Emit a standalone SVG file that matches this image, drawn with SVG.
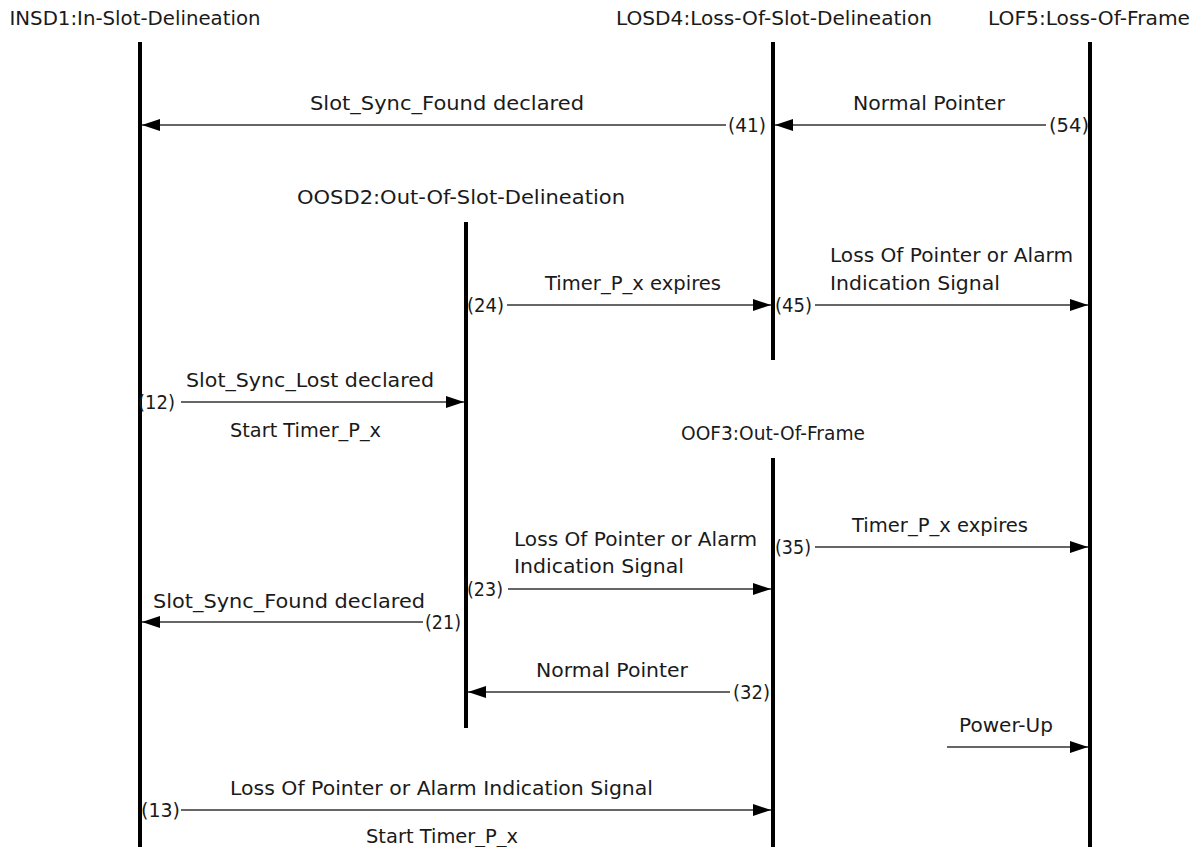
<svg xmlns="http://www.w3.org/2000/svg" width="1201" height="847" viewBox="0 0 1201 847">
<style>
text{font-family:"DejaVu Sans","Liberation Sans",sans-serif;font-size:19px;fill:#1a1a1a}
.title{text-anchor:middle}
.life{stroke:#000;stroke-width:4;fill:none}
.msg{stroke:#333;stroke-width:1.3;fill:none;marker-end:url(#ah)}
</style>
<defs>
<marker id="ah" markerUnits="userSpaceOnUse" markerWidth="18" markerHeight="12" refX="18" refY="6" orient="auto">
<path d="M0,0 L18,6 L0,12 z" fill="#000"/>
</marker>
</defs>
<rect width="1201" height="847" fill="#fff"/>
<g id="INSD1">
<line class="life" x1="140" y1="42" x2="140" y2="847"/>
<text class="title" x="135" y="25" textLength="251" lengthAdjust="spacingAndGlyphs">INSD1:In-Slot-Delineation</text>
</g>
<g id="LOSD4">
<line class="life" x1="773" y1="42" x2="773" y2="360"/>
<text class="title" x="774" y="25" textLength="316" lengthAdjust="spacingAndGlyphs">LOSD4:Loss-Of-Slot-Delineation</text>
</g>
<g id="LOF5">
<line class="life" x1="1090" y1="42" x2="1090" y2="847"/>
<text class="title" x="1089" y="25" textLength="202" lengthAdjust="spacingAndGlyphs">LOF5:Loss-Of-Frame</text>
</g>
<g id="OOSD2">
<line class="life" x1="466" y1="222" x2="466" y2="728"/>
<text class="title" x="461" y="204" textLength="328" lengthAdjust="spacingAndGlyphs">OOSD2:Out-Of-Slot-Delineation</text>
</g>
<g id="OOF3">
<line class="life" x1="773" y1="458" x2="773" y2="847"/>
<text class="title" x="773" y="440" textLength="184" lengthAdjust="spacingAndGlyphs">OOF3:Out-Of-Frame</text>
</g>
<g id="connectors">
<line class="msg" x1="726" y1="125" x2="142" y2="125"/>
<text x="310" y="110" textLength="274" lengthAdjust="spacingAndGlyphs">Slot_Sync_Found declared</text>
<text x="728" y="132" textLength="38" lengthAdjust="spacingAndGlyphs">(41)</text>

<line class="msg" x1="1046" y1="125" x2="775" y2="125"/>
<text x="853" y="110" textLength="152" lengthAdjust="spacingAndGlyphs">Normal Pointer</text>
<text x="1049" y="132" textLength="40" lengthAdjust="spacingAndGlyphs">(54)</text>

<line class="msg" x1="507" y1="305" x2="771" y2="305"/>
<text x="545" y="290" textLength="176" lengthAdjust="spacingAndGlyphs">Timer_P_x expires</text>
<text x="467" y="312" textLength="37" lengthAdjust="spacingAndGlyphs">(24)</text>

<line class="msg" x1="815" y1="305" x2="1088" y2="305"/>
<text x="830" y="262" textLength="243" lengthAdjust="spacingAndGlyphs">Loss Of Pointer or Alarm</text>
<text x="830" y="290" textLength="170" lengthAdjust="spacingAndGlyphs">Indication Signal</text>
<text x="775" y="312" textLength="37" lengthAdjust="spacingAndGlyphs">(45)</text>

<line class="msg" x1="181" y1="402" x2="464" y2="402"/>
<text x="186" y="387" textLength="248" lengthAdjust="spacingAndGlyphs">Slot_Sync_Lost declared</text>
<text x="230" y="437" textLength="151" lengthAdjust="spacingAndGlyphs">Start Timer_P_x</text>
<text x="138" y="409" textLength="37" lengthAdjust="spacingAndGlyphs">(12)</text>

<line class="msg" x1="815" y1="547" x2="1088" y2="547"/>
<text x="852" y="532" textLength="176" lengthAdjust="spacingAndGlyphs">Timer_P_x expires</text>
<text x="775" y="554" textLength="36" lengthAdjust="spacingAndGlyphs">(35)</text>

<line class="msg" x1="508" y1="589" x2="771" y2="589"/>
<text x="514" y="546" textLength="243" lengthAdjust="spacingAndGlyphs">Loss Of Pointer or Alarm</text>
<text x="514" y="573" textLength="170" lengthAdjust="spacingAndGlyphs">Indication Signal</text>
<text x="467" y="596" textLength="36" lengthAdjust="spacingAndGlyphs">(23)</text>

<line class="msg" x1="423" y1="622" x2="142" y2="622"/>
<text x="153" y="608" textLength="272" lengthAdjust="spacingAndGlyphs">Slot_Sync_Found declared</text>
<text x="425" y="629" textLength="36" lengthAdjust="spacingAndGlyphs">(21)</text>

<line class="msg" x1="730" y1="692" x2="468" y2="692"/>
<text x="536" y="677" textLength="152" lengthAdjust="spacingAndGlyphs">Normal Pointer</text>
<text x="733" y="699" textLength="37" lengthAdjust="spacingAndGlyphs">(32)</text>

<line class="msg" x1="947" y1="747" x2="1088" y2="747"/>
<text x="959" y="732" textLength="94" lengthAdjust="spacingAndGlyphs">Power-Up</text>

<line class="msg" x1="181" y1="810" x2="771" y2="810"/>
<text x="230" y="795" textLength="423" lengthAdjust="spacingAndGlyphs">Loss Of Pointer or Alarm Indication Signal</text>
<text x="366" y="843" textLength="152" lengthAdjust="spacingAndGlyphs">Start Timer_P_x</text>
<text x="141" y="817" textLength="39" lengthAdjust="spacingAndGlyphs">(13)</text>
</g>
</svg>
